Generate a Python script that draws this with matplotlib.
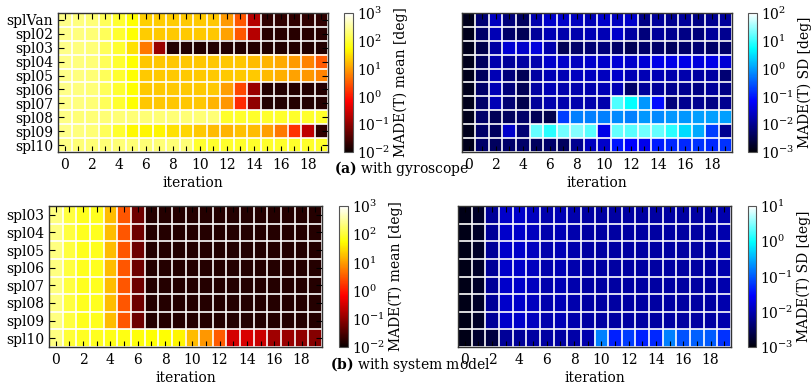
import numpy as np
import matplotlib
matplotlib.use("Agg")
import matplotlib.pyplot as plt
from matplotlib.colors import LogNorm, ListedColormap

plt.rcParams['font.family'] = ['DejaVu Serif']
plt.rcParams['mathtext.fontset'] = 'dejavuserif'
plt.rcParams['font.size'] = 10

iterations = list(range(20))
rows_a = ["splVan", "spl02", "spl03", "spl04", "spl05", "spl06", "spl07", "spl08", "spl09", "spl10"]
rows_b = ["spl03", "spl04", "spl05", "spl06", "spl07", "spl08", "spl09", "spl10"]

# (a) with gyroscope: MADE(T) mean [deg]
mean_a_splVan = [250, 220, 200, 150, 90, 55, 23, 22, 22, 21, 21, 20, 9.5, 2.9, 0.19, 0.019, 0.019, 0.019, 0.019, 0.019]
mean_a_spl02 = [250, 220, 200, 150, 90, 55, 22, 21, 21, 21, 21, 20, 11, 3.0, 0.19, 0.017, 0.017, 0.017, 0.017, 0.017]
mean_a_spl03 = [250, 220, 200, 150, 90, 32, 5.2, 0.12, 0.015, 0.015, 0.015, 0.015, 0.015, 0.015, 0.015, 0.015, 0.015, 0.015, 0.015, 0.015]
mean_a_spl04 = [250, 220, 200, 150, 90, 55, 20, 20, 20, 20, 20, 20, 20, 20, 17, 15, 12.5, 9.5, 6.3, 3.2]
mean_a_spl05 = [250, 220, 200, 150, 90, 55, 21, 21, 21, 21, 21, 21, 21, 21, 21, 16, 13.5, 11, 8.9, 6.3]
mean_a_spl06 = [250, 220, 200, 150, 90, 55, 21, 21, 21, 21, 21, 21, 10.5, 2.3, 0.12, 0.016, 0.016, 0.016, 0.016, 0.016]
mean_a_spl07 = [250, 220, 200, 150, 90, 55, 20, 20, 20, 20, 20, 15, 9.0, 1.35, 0.10, 0.016, 0.016, 0.016, 0.016, 0.016]
mean_a_spl08 = [240, 200, 200, 200, 200, 200, 200, 200, 200, 200, 200, 200, 85, 85, 85, 85, 85, 85, 85, 85]
mean_a_spl09 = [250, 220, 200, 150, 90, 48, 45, 45, 32, 27, 21, 17, 15, 19, 17, 10.5, 5.2, 1.6, 0.23, 0.019]
mean_a_spl10 = [240, 200, 200, 200, 200, 200, 200, 200, 200, 200, 90, 88, 85, 85, 85, 85, 85, 85, 85, 85]

# (a) with gyroscope: MADE(T) SD [deg]
sd_a_splVan = [0.0014, 0.0061, 0.023, 0.0072, 0.0044, 0.0165, 0.027, 0.027, 0.023, 0.0194, 0.027, 0.023, 0.027, 0.0085, 0.012, 0.010, 0.012, 0.0085, 0.010, 0.012]
sd_a_spl02 = [0.0014, 0.0052, 0.0194, 0.0052, 0.0037, 0.012, 0.0194, 0.0165, 0.0165, 0.0194, 0.0194, 0.027, 0.014, 0.0072, 0.012, 0.010, 0.0085, 0.0072, 0.012, 0.010]
sd_a_spl03 = [0.0014, 0.0032, 0.014, 0.032, 0.027, 0.037, 0.0165, 0.0037, 0.0052, 0.0061, 0.0072, 0.0052, 0.0037, 0.0052, 0.0052, 0.0044, 0.0052, 0.0061, 0.0052, 0.0052]
sd_a_spl04 = [0.0014, 0.0044, 0.0165, 0.012, 0.014, 0.0165, 0.027, 0.027, 0.023, 0.027, 0.027, 0.032, 0.027, 0.032, 0.044, 0.044, 0.044, 0.037, 0.044, 0.032]
sd_a_spl05 = [0.0014, 0.0044, 0.0194, 0.0072, 0.0037, 0.014, 0.0194, 0.0194, 0.023, 0.023, 0.023, 0.027, 0.0194, 0.0194, 0.0194, 0.0165, 0.0165, 0.014, 0.014, 0.0061]
sd_a_spl06 = [0.0014, 0.0052, 0.0194, 0.0072, 0.0037, 0.014, 0.0194, 0.0165, 0.0165, 0.0165, 0.0194, 0.0194, 0.0052, 0.012, 0.012, 0.010, 0.010, 0.0085, 0.012, 0.0085]
sd_a_spl07 = [0.0014, 0.0052, 0.0194, 0.0061, 0.0032, 0.012, 0.0165, 0.0165, 0.0165, 0.0165, 0.0165, 13, 5.4, 0.89, 0.079, 0.0072, 0.010, 0.010, 0.0085, 0.010]
sd_a_spl08 = [0.0014, 0.0052, 0.0037, 0.0044, 0.0052, 0.0037, 0.0032, 0.19, 0.62, 0.62, 0.62, 0.74, 0.62, 0.89, 0.74, 0.89, 0.89, 1.05, 1.05, 1.05]
sd_a_spl09 = [0.0014, 0.0052, 0.0044, 0.027, 0.0061, 17, 8.5, 19, 24, 15, 0.044, 17, 15, 19, 17, 8.5, 2.95, 1.26, 0.19, 0.010]
sd_a_spl10 = [0.0014, 0.0052, 0.0044, 0.0052, 0.0052, 0.0044, 0.0052, 0.0044, 0.010, 0.023, 0.027, 0.095, 0.067, 0.05, 0.11, 0.13, 0.13, 0.16, 0.13, 0.16]

# (b) with system model: MADE(T) mean [deg]
mean_b_spl03 = [230, 107, 76, 76, 17, 3.0, 0.056, 0.016, 0.016, 0.016, 0.016, 0.016, 0.016, 0.016, 0.016, 0.016, 0.016, 0.016, 0.016, 0.016]
mean_b_spl04 = [230, 107, 76, 76, 17, 3.0, 0.056, 0.016, 0.016, 0.016, 0.016, 0.016, 0.016, 0.016, 0.016, 0.016, 0.016, 0.016, 0.016, 0.016]
mean_b_spl05 = [230, 107, 76, 76, 17, 3.0, 0.056, 0.016, 0.016, 0.016, 0.016, 0.016, 0.016, 0.016, 0.016, 0.016, 0.016, 0.016, 0.016, 0.016]
mean_b_spl06 = [230, 107, 76, 76, 17, 3.0, 0.056, 0.016, 0.016, 0.016, 0.016, 0.016, 0.016, 0.016, 0.016, 0.016, 0.016, 0.016, 0.016, 0.016]
mean_b_spl07 = [230, 107, 76, 76, 17, 3.0, 0.056, 0.016, 0.016, 0.016, 0.016, 0.016, 0.016, 0.016, 0.016, 0.016, 0.016, 0.016, 0.016, 0.016]
mean_b_spl08 = [230, 107, 76, 76, 17, 3.0, 0.056, 0.016, 0.016, 0.016, 0.016, 0.016, 0.016, 0.016, 0.016, 0.016, 0.016, 0.016, 0.016, 0.016]
mean_b_spl09 = [230, 107, 76, 76, 17, 3.0, 0.056, 0.016, 0.016, 0.016, 0.016, 0.016, 0.016, 0.016, 0.016, 0.016, 0.016, 0.016, 0.016, 0.016]
mean_b_spl10 = [230, 100, 80, 75, 70, 65, 60, 55, 55, 45, 17, 9.0, 3.2, 0.32, 0.36, 0.27, 0.135, 0.12, 0.10, 0.085]

# (b) with system model: MADE(T) SD [deg]
sd_b_spl03 = [0.0012, 0.0015, 0.0072, 0.014, 0.014, 0.0123, 0.0094, 0.0107, 0.0094, 0.0083, 0.0083, 0.0083, 0.0083, 0.0083, 0.0083, 0.0083, 0.0083, 0.0083, 0.0083, 0.0094]
sd_b_spl04 = [0.0012, 0.0015, 0.0072, 0.014, 0.014, 0.0123, 0.0094, 0.0107, 0.0094, 0.0083, 0.0083, 0.0083, 0.0083, 0.0083, 0.0083, 0.0083, 0.0083, 0.0083, 0.0083, 0.0094]
sd_b_spl05 = [0.0012, 0.0015, 0.0072, 0.014, 0.014, 0.0123, 0.0094, 0.0107, 0.0094, 0.0083, 0.0083, 0.0083, 0.0083, 0.0083, 0.0083, 0.0083, 0.0083, 0.0083, 0.0083, 0.0094]
sd_b_spl06 = [0.0012, 0.0015, 0.0072, 0.014, 0.014, 0.0123, 0.0094, 0.0107, 0.0094, 0.0083, 0.0083, 0.0083, 0.0083, 0.0083, 0.0083, 0.0083, 0.0083, 0.0083, 0.0083, 0.0094]
sd_b_spl07 = [0.0012, 0.0015, 0.0072, 0.014, 0.014, 0.0123, 0.0094, 0.0107, 0.0094, 0.0083, 0.0083, 0.0083, 0.0083, 0.0083, 0.0083, 0.0083, 0.0083, 0.0083, 0.0083, 0.0094]
sd_b_spl08 = [0.0012, 0.0015, 0.0072, 0.014, 0.014, 0.0123, 0.0094, 0.0107, 0.0094, 0.0083, 0.0083, 0.0083, 0.0083, 0.0083, 0.0083, 0.0083, 0.0083, 0.0083, 0.0083, 0.0094]
sd_b_spl09 = [0.0012, 0.0015, 0.0072, 0.014, 0.014, 0.0123, 0.0094, 0.0107, 0.0094, 0.0083, 0.0083, 0.0083, 0.0083, 0.0083, 0.0083, 0.0083, 0.0083, 0.0083, 0.0083, 0.0094]
sd_b_spl10 = [0.0012, 0.0017, 0.0022, 0.0072, 0.0072, 0.0083, 0.0083, 0.0083, 0.0088, 0.0094, 0.17, 0.044, 0.066, 0.044, 0.05, 0.17, 0.087, 0.11, 0.10, 0.058]

mean_a = np.array([mean_a_splVan, mean_a_spl02, mean_a_spl03, mean_a_spl04, mean_a_spl05,
                   mean_a_spl06, mean_a_spl07, mean_a_spl08, mean_a_spl09, mean_a_spl10])
sd_a = np.array([sd_a_splVan, sd_a_spl02, sd_a_spl03, sd_a_spl04, sd_a_spl05,
                 sd_a_spl06, sd_a_spl07, sd_a_spl08, sd_a_spl09, sd_a_spl10])
mean_b = np.array([mean_b_spl03, mean_b_spl04, mean_b_spl05, mean_b_spl06,
                   mean_b_spl07, mean_b_spl08, mean_b_spl09, mean_b_spl10])
sd_b = np.array([sd_b_spl03, sd_b_spl04, sd_b_spl05, sd_b_spl06,
                 sd_b_spl07, sd_b_spl08, sd_b_spl09, sd_b_spl10])

hot = plt.get_cmap('hot')
_c = hot(np.linspace(0, 1, 256))
_c[:, :3] = _c[:, [2, 1, 0]]
blue_hot = ListedColormap(_c)

W, H = 811, 388
fig = plt.figure(figsize=(W / 100, H / 100), dpi=100)


def px(x0, y0, x1, y1):
    return [x0 / W, 1 - y1 / H, (x1 - x0) / W, (y1 - y0) / H]


def heat(axrect, cbrect, data, cmap, vmin, vmax, label, rows=None):
    ax = fig.add_axes(px(*axrect))
    im = ax.imshow(data, cmap=cmap, norm=LogNorm(vmin=vmin, vmax=vmax),
                   aspect='auto', interpolation='nearest')
    nr, nc = data.shape
    ax.set_xticks(iterations)
    ax.set_xticklabels([str(i) if i % 2 == 0 else '' for i in iterations])
    ax.set_xticks(np.arange(-0.5, nc, 1), minor=True)
    ax.set_yticks(np.arange(-0.5, nr, 1), minor=True)
    ax.grid(which='minor', color='white', linewidth=1.2)
    ax.tick_params(which='minor', length=0)
    if rows is not None:
        ax.set_yticks(range(nr))
        ax.set_yticklabels(rows)
        ax.tick_params(axis='y', direction='in', left=True, right=True, length=4)
    else:
        ax.set_yticks([])
    ax.tick_params(axis='x', direction='in', top=True, bottom=True, length=4, pad=4)
    ax.set_xlim(-0.5, nc - 0.5)
    ax.set_ylim(nr - 0.5, -0.5)
    for s in ax.spines.values():
        s.set_linewidth(1.0)
        s.set_color('#333333')
    ax.set_xlabel('iteration', labelpad=3)
    cax = fig.add_axes(px(*cbrect))
    cb = fig.colorbar(im, cax=cax)
    cb.ax.minorticks_off()
    cb.ax.tick_params(length=0, pad=3)
    cb.outline.set_linewidth(0.8)
    cb.outline.set_edgecolor('#555555')
    cb.set_label(label, labelpad=2)
    return ax


heat((58, 13, 328, 152), (344, 13, 353, 152), mean_a, 'hot', 1e-2, 1e3,
     'MADE(T) mean [deg]', rows_a)
heat((462, 13, 732, 152), (748, 13, 757, 152), sd_a, blue_hot, 1e-3, 1e2,
     'MADE(T) SD [deg]')
heat((49, 206, 322, 347), (339, 206, 348, 347), mean_b, 'hot', 1e-2, 1e3,
     'MADE(T) mean [deg]', rows_b)
heat((458, 206, 731, 347), (748, 206, 756, 347), sd_b, blue_hot, 1e-3, 1e1,
     'MADE(T) SD [deg]')

fig.text(402 / W, 1 - 169 / H, r'$\mathbf{(a)}$ with gyroscope', ha='center', va='center')
fig.text(410 / W, 1 - 364 / H, r'$\mathbf{(b)}$ with system model', ha='center', va='center')

fig.savefig('out.png', dpi=100)
